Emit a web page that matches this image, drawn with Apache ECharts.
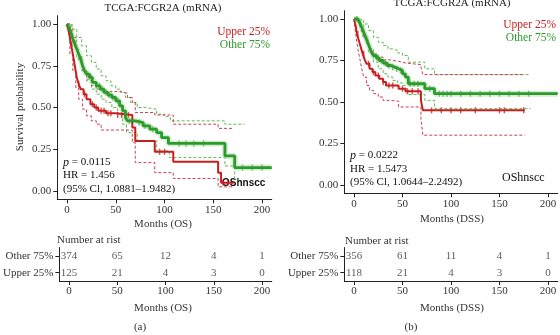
<!DOCTYPE html>
<html>
<head>
<meta charset="utf-8">
<script src="https://cdn.jsdelivr.net/npm/echarts@6/dist/echarts.min.js"></script>
<style>
  html, body { margin: 0; padding: 0; background: #fff; }
  #chart { width: 560px; height: 335px; }
</style>
</head>
<body>
<div id="chart"></div>
<script>
// ---- data (months, survival) ----
const tickValsX = [0, 50, 100, 150, 200];
const tickValsY = [0, 0.25, 0.5, 0.75, 1];
const groups = ['Upper 25%', 'Other 75%'];

// (a) overall survival
const osGreenT = [0, 2, 4, 6, 8, 10, 12, 14, 16, 18, 20, 23, 26, 30, 34, 38, 42, 46, 50, 54, 57, 60, 62, 70, 78, 85, 92, 97, 104, 162, 172, 210];
const osGreenS = [1, 0.98, 0.95, 0.91, 0.88, 0.85, 0.82, 0.79, 0.75, 0.72, 0.70, 0.68, 0.65, 0.63, 0.61, 0.59, 0.575, 0.56, 0.54, 0.51, 0.48, 0.44, 0.42, 0.41, 0.39, 0.37, 0.35, 0.32, 0.285, 0.21, 0.14, 0.14];
const osGreenUpT = [0, 5, 10, 15, 20, 25, 30, 35, 40, 45, 50, 55, 60, 65, 72, 80, 92, 100, 106, 162, 182];
const osGreenUpS = [1, 0.97, 0.92, 0.87, 0.81, 0.77, 0.73, 0.69, 0.66, 0.63, 0.61, 0.59, 0.56, 0.53, 0.50, 0.49, 0.46, 0.445, 0.42, 0.40, 0.40];
const osGreenLoT = [0, 5, 10, 15, 20, 25, 30, 35, 40, 46, 52, 57, 61, 72, 92, 105, 162, 172, 176];
const osGreenLoS = [1, 0.92, 0.80, 0.72, 0.66, 0.61, 0.58, 0.55, 0.53, 0.50, 0.46, 0.40, 0.35, 0.30, 0.24, 0.20, 0.15, 0.07, 0.07];
const osRedT = [0, 2, 4, 6, 8, 10, 12, 14, 17, 20, 24, 28, 32, 40, 50, 67, 70, 90, 109, 155, 158, 171];
const osRedS = [1, 0.95, 0.88, 0.82, 0.75, 0.68, 0.64, 0.61, 0.58, 0.55, 0.52, 0.50, 0.48, 0.465, 0.455, 0.38, 0.30, 0.235, 0.175, 0.11, 0.05, 0.05];
const osRedUpT = [0, 3, 6, 9, 12, 16, 20, 25, 30, 40, 55, 62, 67, 70, 90, 109, 155, 171];
const osRedUpS = [1, 0.97, 0.92, 0.85, 0.78, 0.72, 0.67, 0.63, 0.61, 0.595, 0.585, 0.56, 0.53, 0.47, 0.455, 0.40, 0.375, 0.375];
const osRedLoT = [0, 3, 6, 9, 12, 16, 20, 25, 30, 35, 67, 70, 90, 109, 155, 171];
const osRedLoS = [1, 0.82, 0.72, 0.62, 0.55, 0.49, 0.45, 0.42, 0.40, 0.365, 0.29, 0.17, 0.11, 0.075, 0.025, 0.025];
const osGreenCens = [3, 8, 15, 21, 25, 30, 33, 36, 40, 43, 47, 52, 64, 67, 74, 80, 88, 115, 122, 130, 140, 180, 190, 200];
const osRedCens = [5, 12, 18, 26, 30, 35, 38, 42, 45, 52, 56, 60, 63, 95, 100, 160, 165];
const osRiskOther = [374, 65, 12, 4, 1];
const osRiskUpper = [125, 21, 4, 3, 0];

// (b) disease-specific survival
const dssGreenT = [0, 4, 6, 8, 10, 12, 14, 16, 18, 20, 23, 26, 30, 34, 38, 42, 46, 50, 53, 56, 73, 83, 210];
const dssGreenS = [1, 0.99, 0.975, 0.95, 0.92, 0.89, 0.86, 0.83, 0.80, 0.78, 0.765, 0.75, 0.735, 0.72, 0.71, 0.70, 0.69, 0.67, 0.65, 0.61, 0.58, 0.55, 0.55];
const dssGreenUpT = [0, 5, 10, 15, 20, 25, 30, 35, 40, 45, 50, 56, 73, 83, 182];
const dssGreenUpS = [1, 0.995, 0.97, 0.93, 0.89, 0.86, 0.84, 0.82, 0.81, 0.795, 0.78, 0.74, 0.70, 0.665, 0.665];
const dssGreenLoT = [0, 5, 10, 15, 20, 25, 30, 35, 40, 45, 50, 53, 56, 73, 83, 182];
const dssGreenLoS = [1, 0.97, 0.89, 0.80, 0.74, 0.70, 0.67, 0.65, 0.63, 0.615, 0.60, 0.58, 0.545, 0.51, 0.46, 0.46];
const dssRedT = [0, 2, 3, 5, 7, 9, 11, 13, 16, 19, 22, 26, 30, 33, 46, 53, 69, 71, 176];
const dssRedS = [1, 0.95, 0.91, 0.87, 0.83, 0.79, 0.755, 0.73, 0.70, 0.68, 0.66, 0.64, 0.62, 0.60, 0.58, 0.565, 0.51, 0.45, 0.45];
const dssRedUpT = [0, 4, 6, 8, 10, 13, 16, 20, 25, 30, 35, 46, 53, 69, 71, 176];
const dssRedUpS = [1, 0.985, 0.955, 0.92, 0.885, 0.85, 0.82, 0.79, 0.77, 0.755, 0.745, 0.735, 0.725, 0.71, 0.665, 0.665];
const dssRedLoT = [0, 2, 4, 6, 8, 10, 13, 16, 20, 25, 30, 37, 46, 69, 71, 176];
const dssRedLoS = [1, 0.90, 0.82, 0.76, 0.70, 0.65, 0.60, 0.57, 0.55, 0.53, 0.51, 0.505, 0.47, 0.40, 0.30, 0.30];
const dssGreenCens = [3, 7, 12, 20, 24, 28, 32, 36, 40, 44, 48, 58, 62, 66, 78, 88, 92, 96, 100, 110, 120, 130, 140, 150, 160, 170, 180];
const dssRedCens = [4, 10, 15, 20, 25, 30, 36, 40, 50, 55, 60, 66, 80, 90, 100, 110, 125, 150, 155, 175];
const dssRiskOther = [356, 61, 11, 4, 1];
const dssRiskUpper = [118, 21, 4, 3, 0];

// ---- styling ----
const RED = '#c81e1e', GREEN = '#2b9b2b';
const RED_CI = '#c8405a', GREEN_CI = '#62b852';
const SERIF = 'Liberation Serif';
const AX = '#222', TXT = '#333';

const chart = echarts.init(document.getElementById('chart'), null, { renderer: 'canvas' });

const toPairs = (xs, ys) => xs.map((t, i) => [t, ys[i]]);
const stepAt = (t, xs, ys) => {
  let v = ys[0];
  for (let i = 0; i < xs.length; i++) if (xs[i] <= t) v = ys[i];
  return v;
};

function stepLine(idx, xs, ys, color, width, dashed, opacity) {
  return {
    type: 'line', step: 'end', xAxisIndex: idx, yAxisIndex: idx,
    data: toPairs(xs, ys), showSymbol: false, silent: true,
    lineStyle: { color, width, type: dashed ? [3, 2] : 'solid', opacity: opacity == null ? 1 : opacity }
  };
}
function censor(idx, cens, xs, ys, color) {
  return {
    type: 'scatter', xAxisIndex: idx, yAxisIndex: idx, silent: true,
    symbol: 'rect', symbolSize: [1.4, 6], itemStyle: { color },
    data: cens.map(t => [t, stepAt(t, xs, ys)])
  };
}
function riskRow(idx, vals, cat) {
  return {
    type: 'scatter', xAxisIndex: idx, yAxisIndex: idx, silent: true,
    symbolSize: 1, itemStyle: { color: 'transparent' },
    label: { show: true, position: 'inside', formatter: p => String(p.value[2]), fontFamily: SERIF, fontSize: 11, color: TXT },
    data: tickValsX.map((t, i) => [t, cat, vals[i]])
  };
}

const xMain = (idx) => ({
  type: 'value', gridIndex: idx, min: -10, max: 210,
  axisLine: { show: true, onZero: false, lineStyle: { color: AX, width: 1 } },
  axisTick: { show: true, length: 4, lineStyle: { color: AX }, customValues: tickValsX },
  axisLabel: { margin: 5, fontFamily: SERIF, fontSize: 11, color: TXT, customValues: tickValsX },
  splitLine: { show: false }
});
const yMain = (idx) => ({
  type: 'value', gridIndex: idx, min: -0.05, max: 1.05,
  axisLine: { show: true, onZero: false, lineStyle: { color: AX, width: 1 } },
  axisTick: { show: true, length: 4, lineStyle: { color: AX }, customValues: tickValsY },
  axisLabel: { margin: 6, fontFamily: SERIF, fontSize: 11, color: TXT, customValues: tickValsY, formatter: v => v.toFixed(2) },
  splitLine: { show: false }
});
const yRisk = (idx) => ({
  type: 'category', gridIndex: idx, data: groups,
  axisLine: { show: true, onZero: false, lineStyle: { color: AX, width: 1 } },
  axisTick: { show: true, length: 4, alignWithLabel: true, lineStyle: { color: AX } },
  axisLabel: { margin: 6, fontFamily: SERIF, fontSize: 11, color: TXT },
  splitLine: { show: false }
});

const txt = (x, y, text, extra) => ({
  type: 'text', x, y, silent: true,
  style: Object.assign({ text, fontFamily: SERIF, fontSize: 11, fill: TXT, align: 'left', verticalAlign: 'middle' }, extra || {})
});
const pText = (x, y, val) => ({
  type: 'text', x, y, silent: true,
  style: {
    text: '{i|p} = ' + val, fontFamily: SERIF, fontSize: 11, fill: '#111', verticalAlign: 'middle',
    rich: { i: { fontStyle: 'italic', fontFamily: SERIF, fontSize: 12, fill: '#111' } }
  }
});

const option = {
  animation: false,
  backgroundColor: '#fff',
  grid: [
    { left: 57.25, top: 15.65, width: 214.5, height: 183.7 },
    { left: 344.3, top: 10.7, width: 213.4, height: 182.6 },
    { left: 57.25, top: 247.5, width: 214.5, height: 33.5 },
    { left: 344.3, top: 247.5, width: 213.4, height: 33.5 }
  ],
  xAxis: [xMain(0), xMain(1), xMain(2), xMain(3)],
  yAxis: [yMain(0), yMain(1), yRisk(2), yRisk(3)],
  series: [
    // (a) CI bands
    stepLine(0, osGreenUpT, osGreenUpS, GREEN_CI, 1, true),
    stepLine(0, osGreenLoT, osGreenLoS, GREEN_CI, 1, true),
    stepLine(0, osRedUpT, osRedUpS, RED_CI, 1, true),
    stepLine(0, osRedLoT, osRedLoS, RED_CI, 1, true),
    stepLine(0, osGreenT, osGreenS, '#9fd89a', 6, false, 0.45),
    stepLine(0, osRedT, osRedS, RED, 2),
    censor(0, osRedCens, osRedT, osRedS, RED),
    stepLine(0, osGreenT, osGreenS, GREEN, 2.8),
    censor(0, osGreenCens, osGreenT, osGreenS, GREEN),
    // (b)
    stepLine(1, dssGreenUpT, dssGreenUpS, GREEN_CI, 1, true),
    stepLine(1, dssGreenLoT, dssGreenLoS, GREEN_CI, 1, true),
    stepLine(1, dssRedUpT, dssRedUpS, RED_CI, 1, true),
    stepLine(1, dssRedLoT, dssRedLoS, RED_CI, 1, true),
    stepLine(1, dssGreenT, dssGreenS, '#9fd89a', 6, false, 0.45),
    stepLine(1, dssRedT, dssRedS, RED, 2),
    censor(1, dssRedCens, dssRedT, dssRedS, RED),
    stepLine(1, dssGreenT, dssGreenS, GREEN, 2.8),
    censor(1, dssGreenCens, dssGreenT, dssGreenS, GREEN),
    // risk tables
    riskRow(2, osRiskOther, 'Other 75%'),
    riskRow(2, osRiskUpper, 'Upper 25%'),
    riskRow(3, dssRiskOther, 'Other 75%'),
    riskRow(3, dssRiskUpper, 'Upper 25%')
  ],
  graphic: [
    txt(163, 8, 'TCGA:FCGR2A (mRNA)', { align: 'center', fill: '#222' }),
    txt(452, 3, 'TCGA:FCGR2A (mRNA)', { align: 'center', fill: '#222' }),
    { type: 'text', x: 20, y: 107, rotation: Math.PI / 2, silent: true,
      style: { text: 'Survival probability', fontFamily: SERIF, fontSize: 11, fill: TXT, align: 'center', verticalAlign: 'middle' } },
    txt(270, 32, 'Upper 25%', { align: 'right', fill: RED, fontSize: 11.5 }),
    txt(270, 44.5, 'Other 75%', { align: 'right', fill: GREEN, fontSize: 11.5 }),
    txt(556, 25, 'Upper 25%', { align: 'right', fill: RED, fontSize: 11.5 }),
    txt(556, 38, 'Other 75%', { align: 'right', fill: GREEN, fontSize: 11.5 }),
    pText(63, 162.5, '0.0115'),
    txt(63, 175.5, 'HR = 1.456', { fill: '#111' }),
    txt(63, 189, '(95% Cl, 1.0881\u20131.9482)', { fill: '#111' }),
    pText(350, 155.5, '0.0222'),
    txt(350, 169, 'HR = 1.5473', { fill: '#111' }),
    txt(350, 182.5, '(95% Cl, 1.0644\u20132.2492)', { fill: '#111' }),
    txt(222, 183, 'OShnscc', { fontFamily: 'Liberation Sans', fontSize: 10, fontWeight: 'bold', fill: '#111' }),
    txt(502, 177.5, 'OShnscc', { fontSize: 12, fill: '#111' }),
    txt(163, 224, 'Months (OS)', { align: 'center' }),
    txt(452, 219, 'Months (DSS)', { align: 'center' }),
    txt(57, 240, 'Number at rist'),
    txt(345, 241, 'Number at rist'),
    txt(163, 308, 'Months (OS)', { align: 'center' }),
    txt(452, 308, 'Months (DSS)', { align: 'center' }),
    txt(140, 327, '(a)', { align: 'center' }),
    txt(411, 327, '(b)', { align: 'center' })
  ]
};

chart.setOption(option);
</script>
</body>
</html>
